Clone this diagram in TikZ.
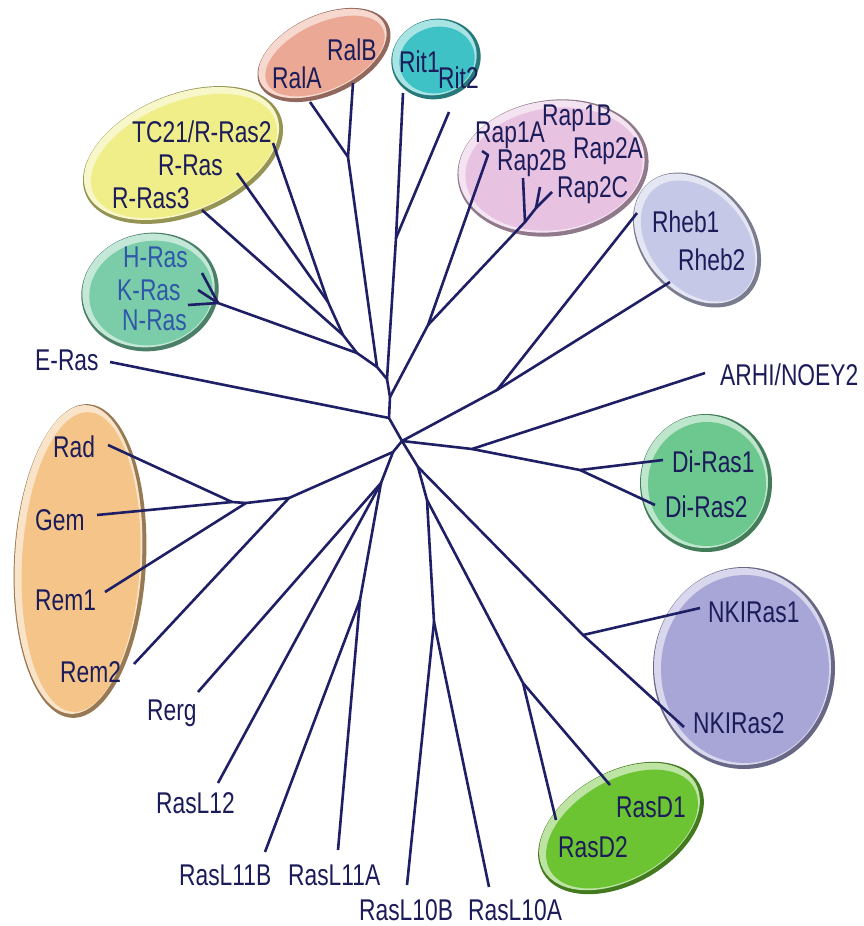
\documentclass[tikz,border=0pt]{standalone}
\usepackage{fontspec}
\setmainfont{Liberation Sans}[FakeStretch=0.76]
\usetikzlibrary{shapes.geometric,calc}
\definecolor{treeline}{HTML}{1F1F66}
\definecolor{labeltext}{HTML}{1C1C5A}
\definecolor{rasblue}{HTML}{2F58AA}
\definecolor{cRal}{HTML}{EBA895}
\definecolor{cRit}{HTML}{3FC2C6}
\definecolor{cRap}{HTML}{E7C3E1}
\definecolor{cRheb}{HTML}{C5C8E6}
\definecolor{cRRas}{HTML}{F0EE88}
\definecolor{cRas}{HTML}{7ACDA8}
\definecolor{cRem}{HTML}{F4C488}
\definecolor{cDi}{HTML}{6CC88E}
\definecolor{cNKI}{HTML}{A8A6D6}
\definecolor{cRasD}{HTML}{6CC432}
\newcommand\myblob[6]{%
  \node[blobshape, minimum width=#3pt, minimum height=#4pt, rotate=#5, fill=#6!62!black] (#1) at #2 {};
  \node[blobshape, minimum width=#3pt-5pt, minimum height=#4pt-5pt, rotate=#5, fill=#6!45!white] at ($#2+(-1.5,-1.5)$) {};
  \node[blobshape, minimum width=#3pt-14pt, minimum height=#4pt-14pt, rotate=#5, fill=#6] at ($#2+(1,1)$) {};
}
\begin{document}
\begin{tikzpicture}[x=1pt,y=-1pt,
  branch/.style={draw=treeline, line width=2.6pt, line join=round},
  lbl/.style={anchor=base west, inner sep=0pt, text=labeltext, font=\fontsize{30}{30}\selectfont},
  blobshape/.style={ellipse, draw=none, inner sep=0pt}]
\fill[white] (0,0) rectangle (863,926);
\useasboundingbox (0,0) rectangle (863,926);

% ---------- group blobs ----------
\myblob{bRal}{(324,55)}{142}{80}{25}{cRal}
\myblob{bRit}{(436,59)}{90}{80}{15}{cRit}
\myblob{bRap}{(553,168)}{192}{136}{8}{cRap}
\myblob{bRheb}{(697,240)}{150}{110}{-50}{cRheb}
\myblob{bRRas}{(183,155)}{210}{122}{22}{cRRas}
\myblob{bRas}{(150,292)}{138}{118}{10}{cRas}
\myblob{bRem}{(80,561)}{132}{314}{-3}{cRem}
\myblob{bDi}{(706,483)}{132}{138}{0}{cDi}
\myblob{bNKI}{(744,668)}{182}{202}{0}{cNKI}
\myblob{bRasD}{(621,828)}{180}{112}{30}{cRasD}

% ---------- tree coordinates ----------
\coordinate (c0) at (402,441);
\coordinate (n1) at (389,418);
\coordinate (n2) at (390,397);
\coordinate (n3) at (387,379);
\coordinate (n4) at (377,367);
\coordinate (n5) at (357,353);
\coordinate (n6) at (343,335);
\coordinate (n7) at (328,302);
\coordinate (eRalA) at (310,102);
\coordinate (eRalB) at (353,83);
\coordinate (jRal) at (348,157);
\coordinate (eRit1) at (403,93);
\coordinate (eRit2) at (449,112);
\coordinate (jRit) at (396,238);
\coordinate (eTC21) at (273,143);
\coordinate (eRRas) at (237,173);
\coordinate (eRRas3) at (202,210);
\coordinate (eH) at (202,273);
\coordinate (eK) at (198,290);
\coordinate (eN) at (188,305);
\coordinate (jRas) at (218,303);
\coordinate (eERas) at (110,362);
\coordinate (eRap1A) at (488,155);
\coordinate (tRap) at (482,151);
\coordinate (eRap2B) at (523,178);
\coordinate (eRap2A) at (540,187);
\coordinate (eRap2C) at (552,192);
\coordinate (jRap2c) at (536,208);
\coordinate (jRap2) at (525,222);
\coordinate (jRap) at (428,325);
\coordinate (eRheb1) at (637,213);
\coordinate (eRheb2) at (670,282);
\coordinate (jRheb) at (497,390);
\coordinate (eARHI) at (705,373);
\coordinate (jDi) at (472,449);
\coordinate (jDi2) at (580,470);
\coordinate (eDi1) at (663,460);
\coordinate (eDi2) at (655,505);
\coordinate (jR) at (418,467);
\coordinate (jNKI) at (583,635);
\coordinate (eNKI1) at (700,608);
\coordinate (eNKI2) at (684,727);
\coordinate (jR2) at (427,500);
\coordinate (jL10) at (434,622);
\coordinate (eL10B) at (407,885);
\coordinate (eL10A) at (489,887);
\coordinate (jRasD) at (523,683);
\coordinate (eRasD1) at (610,785);
\coordinate (eRasD2) at (556,820);
\coordinate (jLeft) at (393,452);
\coordinate (jL) at (381,483);
\coordinate (eRerg) at (198,692);
\coordinate (eL12) at (218,783);
\coordinate (jL11) at (360,600);
\coordinate (eL11B) at (265,852);
\coordinate (eL11A) at (338,850);
\coordinate (jRem) at (289,498);
\coordinate (jRad) at (246,503);
\coordinate (jRad2) at (232,502);
\coordinate (eRad) at (108,445);
\coordinate (eGem) at (97,515);
\coordinate (eRem1) at (105,592);
\coordinate (eRem2) at (134,664);

% ---------- branches ----------
\draw[branch] (eRalA) -- (jRal) -- (n4);
\draw[branch] (eRalB) -- (jRal);
\draw[branch] (eRit1) -- (jRit) -- (n3);
\draw[branch] (eRit2) -- (jRit);
\draw[branch] (eTC21) -- (n7) -- (n6) -- (n5) -- (n4) -- (n3) -- (n2) -- (n1) -- (c0);
\draw[branch] (eRRas) -- (n7);
\draw[branch] (eRRas3) -- (n6);
\draw[branch] (jRas) -- (n5);
\draw[branch] (eH) -- (jRas);
\draw[branch] (eK) -- (jRas);
\draw[branch] (eN) -- (jRas);
\draw[branch] (eERas) -- (n1);
\draw[branch] (n2) -- (jRap) -- (eRap1A) -- (tRap);
\draw[branch] (jRap) -- (jRap2) -- (eRap2B);
\draw[branch] (jRap2) -- (jRap2c) -- (eRap2C);
\draw[branch] (jRap2c) -- (eRap2A);
\draw[branch] (c0) -- (jRheb) -- (eRheb1);
\draw[branch] (jRheb) -- (eRheb2);
\draw[branch] (c0) -- (jDi) -- (eARHI);
\draw[branch] (jDi) -- (jDi2) -- (eDi1);
\draw[branch] (jDi2) -- (eDi2);
\draw[branch] (c0) -- (jR) -- (jNKI) -- (eNKI2);
\draw[branch] (jNKI) -- (eNKI1);
\draw[branch] (jR) -- (jR2) -- (jL10) -- (eL10B);
\draw[branch] (jL10) -- (eL10A);
\draw[branch] (jR2) -- (jRasD) -- (eRasD1);
\draw[branch] (jRasD) -- (eRasD2);
\draw[branch] (c0) -- (jLeft) -- (jRem) -- (eRem2);
\draw[branch] (jRem) -- (jRad) -- (eRem1);
\draw[branch] (jRad) -- (jRad2) -- (eGem);
\draw[branch] (jRad2) -- (eRad);
\draw[branch] (jLeft) -- (jL) -- (eRerg);
\draw[branch] (jL) -- (eL12);
\draw[branch] (jL) -- (jL11) -- (eL11B);
\draw[branch] (jL11) -- (eL11A);

% ---------- labels ----------
\node[lbl] (tRalA) at (272,88) {RalA};
\node[lbl] (tRalB) at (327,60) {RalB};
\node[lbl] (tRit1) at (399,72) {Rit1};
\node[lbl] (tRit2) at (438,88) {Rit2};
\node[lbl] (tTC21) at (132,142) {TC21/R-Ras2};
\node[lbl] (tRRas) at (158,175) {R-Ras};
\node[lbl] (tRRas3) at (112,208) {R-Ras3};
\node[lbl, text=rasblue] (tH) at (123,267) {H-Ras};
\node[lbl, text=rasblue] (tK) at (117,300) {K-Ras};
\node[lbl, text=rasblue] (tN) at (122,330) {N-Ras};
\node[lbl] (tERas) at (35,370) {E-Ras};
\node[lbl] (tRad) at (53,457) {Rad};
\node[lbl] (tGem) at (35,530) {Gem};
\node[lbl] (tRem1) at (35,610) {Rem1};
\node[lbl] (tRem2) at (60,682) {Rem2};
\node[lbl] (tRerg) at (147,720) {Rerg};
\node[lbl] (tL12) at (156,813) {RasL12};
\node[lbl] (tL11B) at (179,885) {RasL11B};
\node[lbl] (tL11A) at (288,885) {RasL11A};
\node[lbl] (tL10B) at (359,920) {RasL10B};
\node[lbl] (tL10A) at (468,920) {RasL10A};
\node[lbl] (tRasD2) at (558,857) {RasD2};
\node[lbl] (tRasD1) at (616,817) {RasD1};
\node[lbl] (tNKI2) at (693,733) {NKIRas2};
\node[lbl] (tNKI1) at (708,622) {NKIRas1};
\node[lbl] (tDi1) at (672,472) {Di-Ras1};
\node[lbl] (tDi2) at (665,517) {Di-Ras2};
\node[lbl] (tARHI) at (720,385) {ARHI/NOEY2};
\node[lbl] (tRheb1) at (652,232) {Rheb1};
\node[lbl] (tRheb2) at (678,270) {Rheb2};
\node[lbl] (tRap1A) at (475,142) {Rap1A};
\node[lbl] (tRap1B) at (542,125) {Rap1B};
\node[lbl] (tRap2B) at (497,170) {Rap2B};
\node[lbl] (tRap2A) at (573,158) {Rap2A};
\node[lbl] (tRap2C) at (557,197) {Rap2C};
\end{tikzpicture}
\end{document}
